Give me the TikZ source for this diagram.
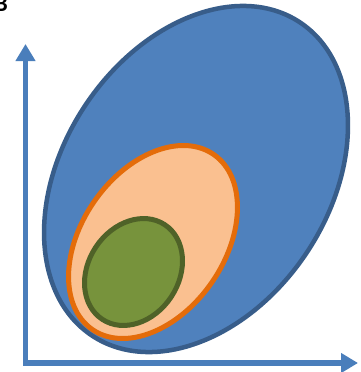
\documentclass[tikz,border=0pt]{standalone}
\usepackage{fontspec}
\setmainfont{Carlito}
\usepackage{tikz}
\usetikzlibrary{arrows.meta}
\definecolor{setblue}{HTML}{4F81BD}
\definecolor{setblueline}{HTML}{385D8A}
\definecolor{setorange}{HTML}{FAC090}
\definecolor{setorangeline}{HTML}{E46C0A}
\definecolor{setgreen}{HTML}{77933C}
\definecolor{setgreenline}{HTML}{4F6228}
\definecolor{axisblue}{HTML}{4A7EBB}

\begin{document}
\begin{tikzpicture}[x=1pt,y=-1pt]
\useasboundingbox (0,0) rectangle (361,372);

\coordinate (O) at (25.5,363);
\coordinate (ytip) at (25.5,44);
\coordinate (xtip) at (358,363);
\coordinate (cbig) at (196,179);
\coordinate (cmid) at (153,242);
\coordinate (csmall) at (133.5,272);

% panel letter, cut by the page edge
\node[anchor=base east, inner sep=0pt, font=\fontsize{24}{24}\selectfont\bfseries] (letter) at (8,12) {B};

% axes
\draw[axisblue, line width=5.5pt, {Triangle[length=17pt,width=19pt]}-{Triangle[length=17pt,width=19pt]}] (ytip) |- (xtip);

% nested sets
\draw[setblueline, fill=setblue, line width=4.5pt] (cbig) ellipse [x radius=188, y radius=133, rotate=56.4];
\draw[setorangeline, fill=setorange, line width=5pt] (cmid) ellipse [x radius=106.5, y radius=71.4, rotate=55.2];
\draw[setgreenline, fill=setgreen, line width=5pt] (csmall) ellipse [x radius=56.7, y radius=45.2, rotate=56.5];

\end{tikzpicture}
\end{document}
